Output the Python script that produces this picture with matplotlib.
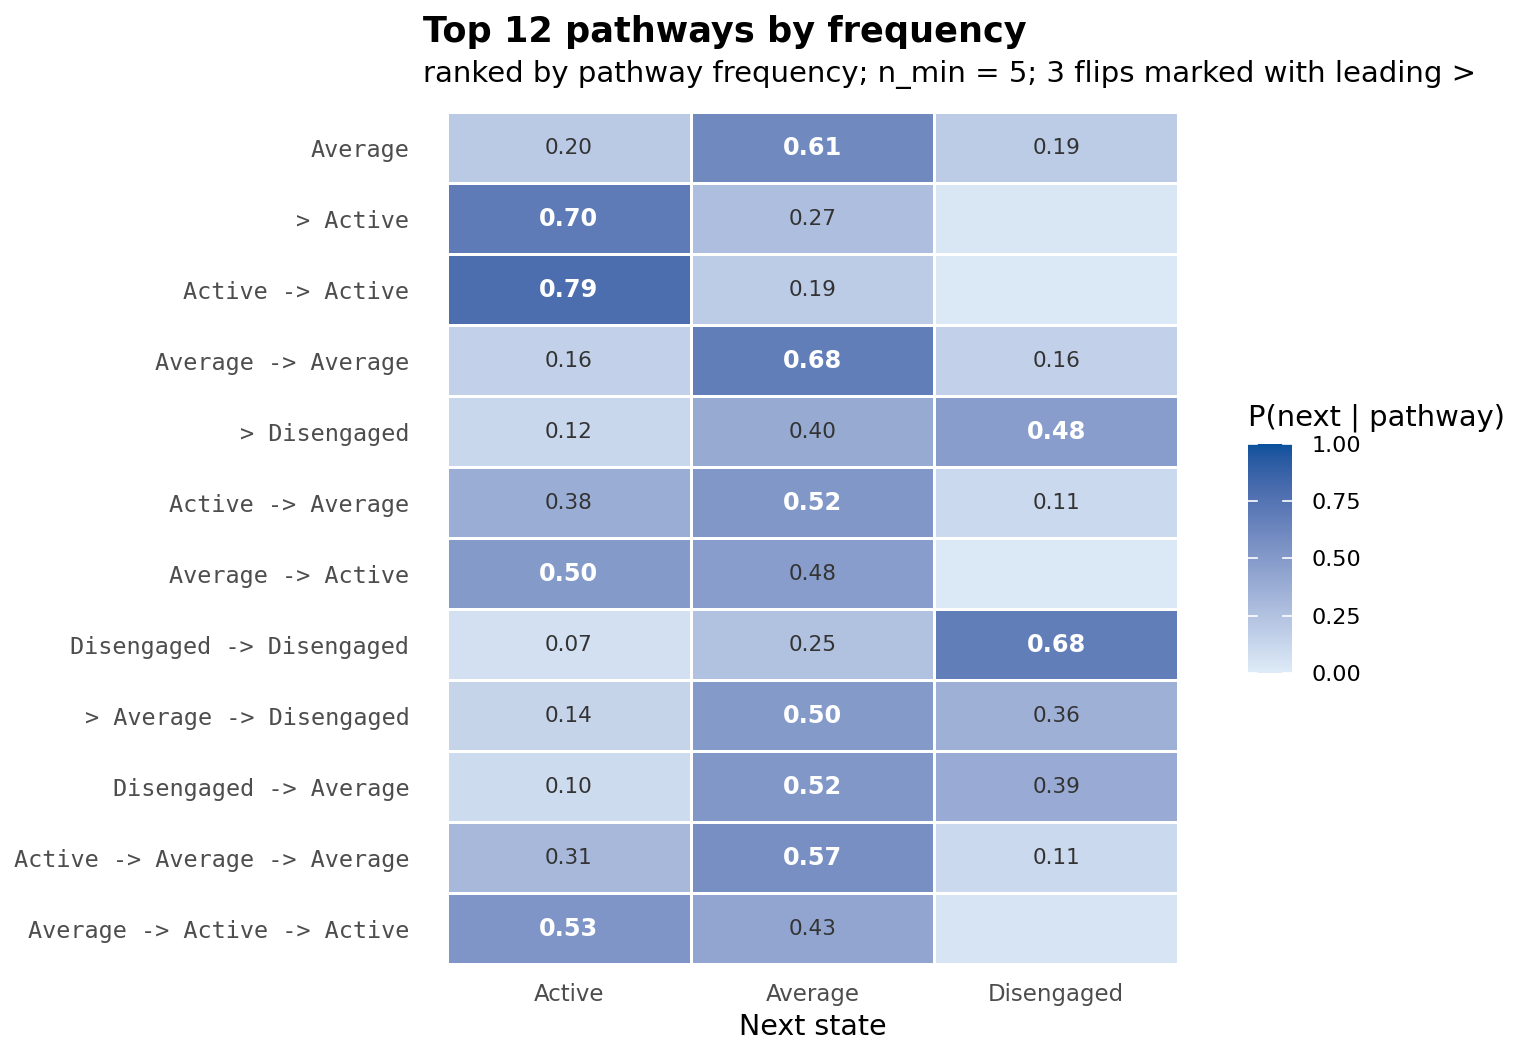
import numpy as np
import matplotlib
matplotlib.use("Agg")
import matplotlib.pyplot as plt
from matplotlib.colors import ListedColormap

# pathways, top to bottom
pathways = [
    "Average",
    "> Active",
    "Active -> Active",
    "Average -> Average",
    "> Disengaged",
    "Active -> Average",
    "Average -> Active",
    "Disengaged -> Disengaged",
    "> Average -> Disengaged",
    "Disengaged -> Average",
    "Active -> Average -> Average",
    "Average -> Active -> Active",
]
next_states = ["Active", "Average", "Disengaged"]

p_active = [0.20, 0.70, 0.79, 0.16, 0.12, 0.38, 0.50, 0.07, 0.14, 0.10, 0.31, 0.53]
p_average = [0.61, 0.27, 0.19, 0.68, 0.40, 0.52, 0.48, 0.25, 0.50, 0.52, 0.57, 0.43]
p_diseng = [0.19, 0.03, 0.02, 0.16, 0.48, 0.11, 0.02, 0.68, 0.36, 0.39, 0.11, 0.04]

vals = np.column_stack([p_active, p_average, p_diseng])


# gradient low -> high interpolated in Lab (like ggplot's scale_fill_gradient)
def srgb_to_lab(c):
    c = np.asarray(c, float)
    lin = np.where(c <= 0.04045, c / 12.92, ((c + 0.055) / 1.055) ** 2.4)
    M = np.array([[0.4124, 0.3576, 0.1805],
                  [0.2126, 0.7152, 0.0722],
                  [0.0193, 0.1192, 0.9505]])
    xyz = lin @ M.T / np.array([0.95047, 1.0, 1.08883])
    f = np.where(xyz > 0.008856, np.cbrt(xyz), 7.787 * xyz + 16 / 116)
    return np.stack([116 * f[..., 1] - 16,
                     500 * (f[..., 0] - f[..., 1]),
                     200 * (f[..., 1] - f[..., 2])], -1)


def lab_to_srgb(lab):
    L, a, b = lab[..., 0], lab[..., 1], lab[..., 2]
    fy = (L + 16) / 116
    fx = fy + a / 500
    fz = fy - b / 200
    f = np.stack([fx, fy, fz], -1)
    xyz = np.where(f > 0.2069, f ** 3, (f - 16 / 116) / 7.787)
    xyz = xyz * np.array([0.95047, 1.0, 1.08883])
    Minv = np.array([[3.2406, -1.5372, -0.4986],
                     [-0.9689, 1.8758, 0.0415],
                     [0.0557, -0.2040, 1.0570]])
    lin = xyz @ Minv.T
    c = np.where(lin <= 0.0031308, 12.92 * lin, 1.055 * np.clip(lin, 0, None) ** (1 / 2.4) - 0.055)
    return np.clip(c, 0, 1)


lo = np.array([0xde, 0xeb, 0xf7]) / 255
hi = np.array([0x08, 0x51, 0x9c]) / 255
t = np.linspace(0, 1, 256)[:, None]
lab = srgb_to_lab(lo) * (1 - t) + srgb_to_lab(hi) * t
cmap = ListedColormap(lab_to_srgb(lab))

fig = plt.figure(figsize=(15.36, 10.56), dpi=100)
ax = fig.add_axes([0.2910, 0.0871, 0.4759, 0.8068])

mesh = ax.pcolormesh(vals, cmap=cmap, vmin=0, vmax=1, edgecolor="white", linewidth=2)
ax.set_xlim(0, 3)
ax.set_ylim(len(pathways), 0)

for i in range(len(pathways)):
    rowmax = vals[i].max()
    for j in range(3):
        v = vals[i, j]
        if v < 0.05:
            continue
        if v == rowmax:
            ax.text(j + 0.5, i + 0.5, f"{v:.2f}", ha="center", va="center",
                    color="white", fontsize=17.3, fontweight="bold")
        else:
            ax.text(j + 0.5, i + 0.5, f"{v:.2f}", ha="center", va="center",
                    color="#333333", fontsize=15.5)

ax.set_xticks(np.arange(3) + 0.5)
ax.set_xticklabels(next_states, fontsize=16.5, color="#4d4d4d")
ax.set_yticks(np.arange(len(pathways)) + 0.5)
ax.set_yticklabels(pathways, fontsize=16.9, color="#4d4d4d", family="DejaVu Sans Mono",
                   va="center_baseline")
ax.tick_params(axis="x", length=0, pad=14)
ax.tick_params(axis="y", length=0, pad=27)
ax.set_xlabel("Next state", fontsize=20.5, labelpad=5)
for s in ax.spines.values():
    s.set_visible(False)

# colour bar
cax = fig.add_axes([0.8125, 0.3627, 0.0286, 0.2169])
cb = fig.colorbar(mesh, cax=cax, ticks=[0, 0.25, 0.5, 0.75, 1.0])
cb.outline.set_visible(False)
cb.ax.set_yticklabels(["0.00", "0.25", "0.50", "0.75", "1.00"], fontsize=16)
cb.ax.tick_params(length=0, pad=14)
for yv in [0, 0.25, 0.5, 0.75, 1.0]:
    cax.plot([0, 0.2], [yv, yv], color="white", lw=1.2)
    cax.plot([0.8, 1], [yv, yv], color="white", lw=1.2)
cax.set_xlim(0, 1)
fig.text(0.8125, 0.5975, "P(next | pathway)", fontsize=20.9, va="baseline")

fig.text(0.2754, 0.960, "Top 12 pathways by frequency", fontsize=25.3,
         fontweight="bold", va="baseline")
fig.text(0.2754, 0.9223, "ranked by pathway frequency; n_min = 5; 3 flips marked with leading >",
         fontsize=21, va="baseline")

fig.savefig("out.png", dpi=100)
